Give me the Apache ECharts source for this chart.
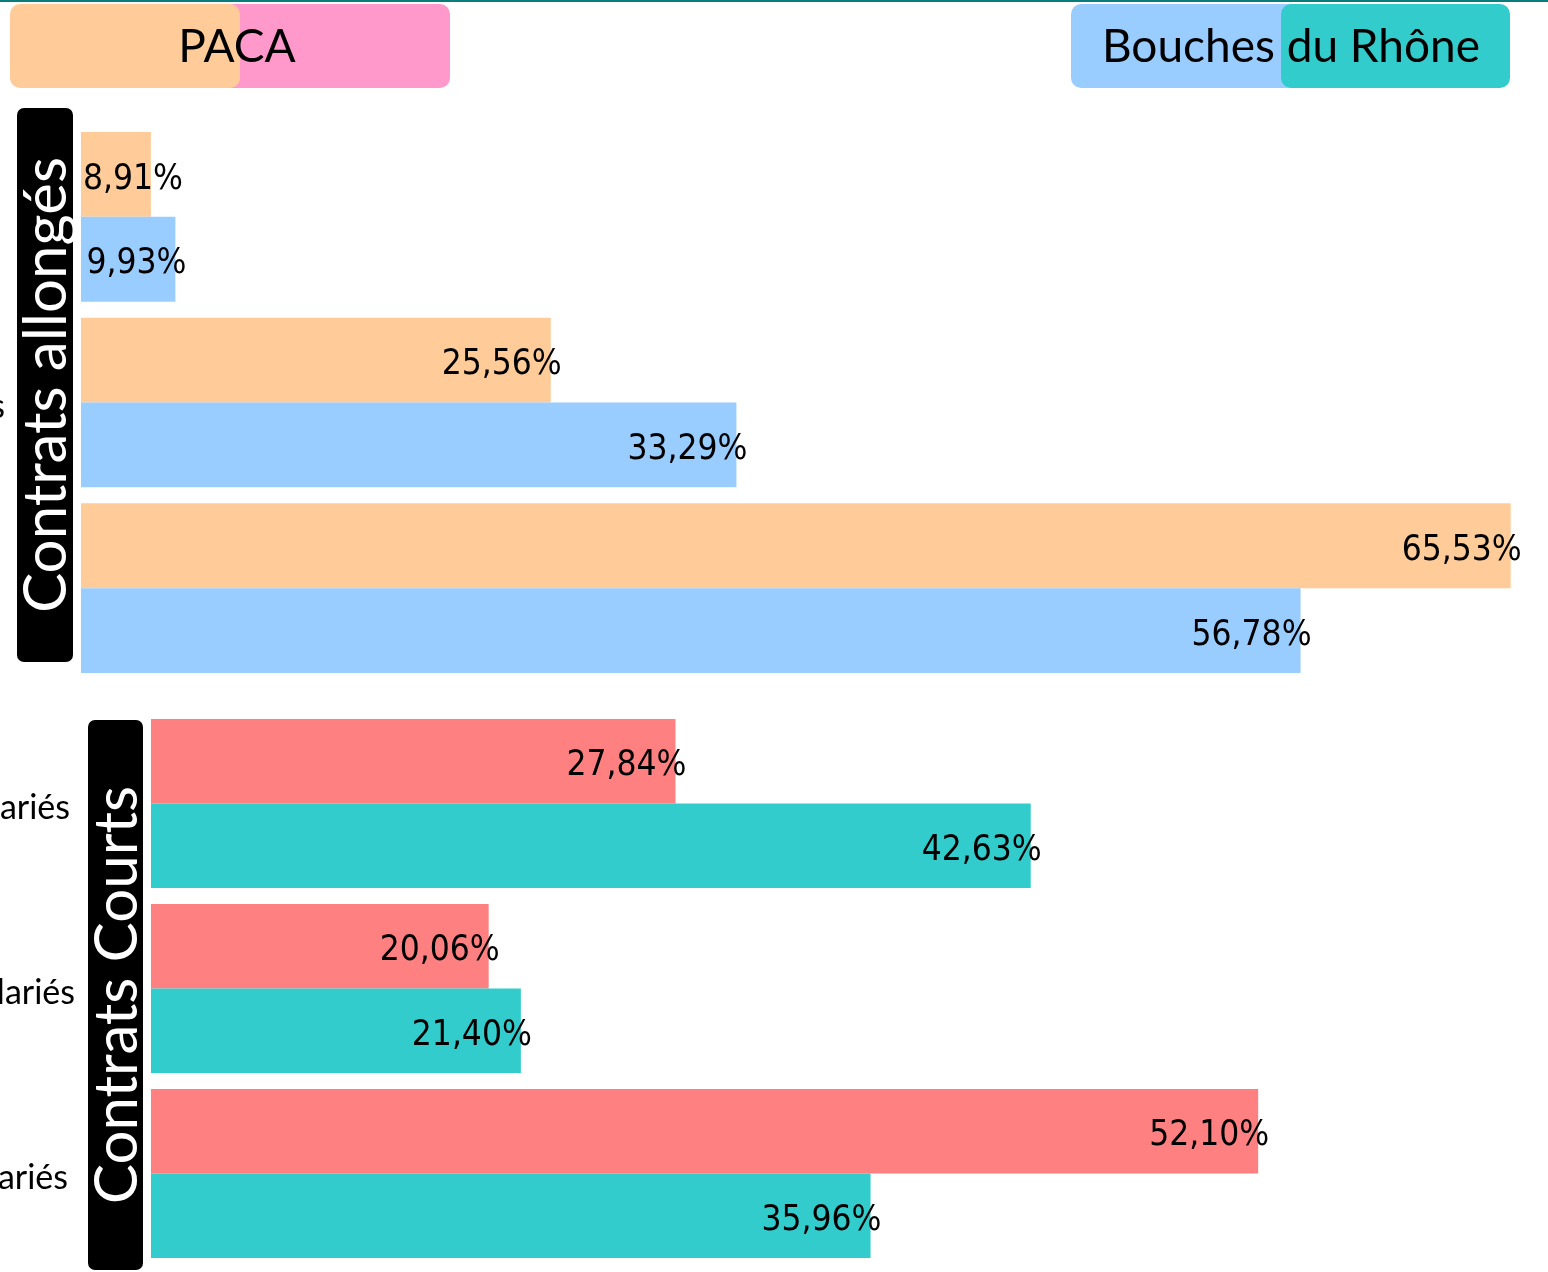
<!DOCTYPE html>
<html>
<head>
<meta charset="utf-8">
<script src="https://cdn.jsdelivr.net/npm/echarts@6/dist/echarts.min.js"></script>
<style>
  html, body { margin: 0; padding: 0; background: #fff; }
  #chart { width: 1548px; height: 1272px; }
</style>
</head>
<body>
<div id="chart"></div>
<script>
// categories (cut off on the left in the original, only the end shows)
const categories = ['Moins de 10 salariés', 'De 10 à 49 salariés', 'De 50 à 249 salariés'];

// contrats allongés
const allongesPaca = [8.91, 25.56, 65.53];
const allongesBdr = [9.93, 33.29, 56.78];

// contrats courts
const courtsPaca = [27.84, 20.06, 52.10];
const courtsBdr = [42.63, 21.40, 35.96];

const fmt = (p) => p.value.toFixed(2).replace('.', ',') + '%';

const valueLabel = {
    show: true,
    position: 'insideRight',
    offset: [16, 5],
    formatter: fmt,
    color: '#000',
    fontSize: 35,
    fontFamily: 'DejaVu Sans Condensed'
};

// labels of short bars start at the bar's left edge instead
const withLabels = (arr) => arr.map((v) => v < 12
    ? { value: v, label: { position: 'insideLeft', offset: [-3, 5] } }
    : v);

const catAxis = (idx) => ({
    type: 'category',
    gridIndex: idx,
    data: categories,
    inverse: true,
    axisLine: { show: false },
    axisTick: { show: false },
    axisLabel: {
        margin: 76,
        formatter: (v, i) => '{p' + i + '|' + v + '}',
        rich: {
            p0: { fontSize: 34, fontFamily: 'Lato', color: '#000', padding: [10, 5, 0, 0] },
            p1: { fontSize: 34, fontFamily: 'Lato', color: '#000', padding: [10, 0, 0, 0] },
            p2: { fontSize: 34, fontFamily: 'Lato', color: '#000', padding: [10, 7, 0, 0] }
        }
    }
});

const valAxis = (idx) => ({
    type: 'value',
    gridIndex: idx,
    min: 6,
    max: 66,
    show: false,
    splitLine: { show: false }
});

const sideBox = (x, y, w, h, text) => ({
    type: 'group',
    z: 100,
    children: [
        {
            type: 'rect',
            shape: { x: x, y: y, width: w, height: h, r: 7 },
            style: { fill: '#000' },
            z: 100
        },
        {
            type: 'text',
            x: x + w / 2 + 2,
            y: y + h / 2,
            rotation: Math.PI / 2,
            style: {
                text: text,
                fill: '#fff',
                font: '60px Lato',
                align: 'center',
                verticalAlign: 'middle'
            },
            z: 101
        }
    ]
});

// bottom box first, top box second
const legendPair = (xa, wa, ca, xb, wb, cb, text, cx) => ([
    { type: 'rect', shape: { x: xa, y: 4, width: wa, height: 84, r: 10 }, style: { fill: ca }, z: 90 },
    { type: 'rect', shape: { x: xb, y: 4, width: wb, height: 84, r: 10 }, style: { fill: cb }, z: 91 },
    {
        type: 'text', x: cx, y: 47, z: 92,
        style: { text: text, fill: '#000', font: '46px Lato', align: 'center', verticalAlign: 'middle' }
    }
]);

const chart = echarts.init(document.getElementById('chart'));

chart.setOption({
    animation: false,
    backgroundColor: '#fff',
    grid: [
        { left: 81, top: 124, width: 1441, height: 557, containLabel: false, outerBoundsMode: 'none' },
        { left: 151, top: 711, width: 1441, height: 555, containLabel: false, outerBoundsMode: 'none' }
    ],
    xAxis: [valAxis(0), valAxis(1)],
    yAxis: [catAxis(0), catAxis(1)],
    series: [
        {
            name: 'PACA', type: 'bar', xAxisIndex: 0, yAxisIndex: 0,
            data: withLabels(allongesPaca), itemStyle: { color: '#FFCC99' },
            barGap: '0%', barCategoryGap: '8.6%', label: valueLabel
        },
        {
            name: 'Bouches du Rhône', type: 'bar', xAxisIndex: 0, yAxisIndex: 0,
            data: allongesBdr, itemStyle: { color: '#99CCFF' },
            barGap: '0%', barCategoryGap: '8.6%', label: valueLabel
        },
        {
            name: 'PACA', type: 'bar', xAxisIndex: 1, yAxisIndex: 1,
            data: courtsPaca, itemStyle: { color: '#FF8080' },
            barGap: '0%', barCategoryGap: '8.6%', label: valueLabel
        },
        {
            name: 'Bouches du Rhône', type: 'bar', xAxisIndex: 1, yAxisIndex: 1,
            data: courtsBdr, itemStyle: { color: '#33CCCC' },
            barGap: '0%', barCategoryGap: '8.6%', label: valueLabel
        }
    ],
    graphic: [
        { type: 'rect', shape: { x: 0, y: 0, width: 1548, height: 2 }, style: { fill: '#0A7C7A' }, z: 110 },
        ...legendPair(213, 237, '#FF99CC', 10, 230, '#FFCC99', 'PACA', 237),
        ...legendPair(1071, 240, '#99CCFF', 1281, 229, '#33CCCC', 'Bouches du Rhône', 1291),
        sideBox(17, 108, 56, 554, 'Contrats allongés'),
        sideBox(88, 720, 55, 550, 'Contrats Courts')
    ]
});
</script>
</body>
</html>
